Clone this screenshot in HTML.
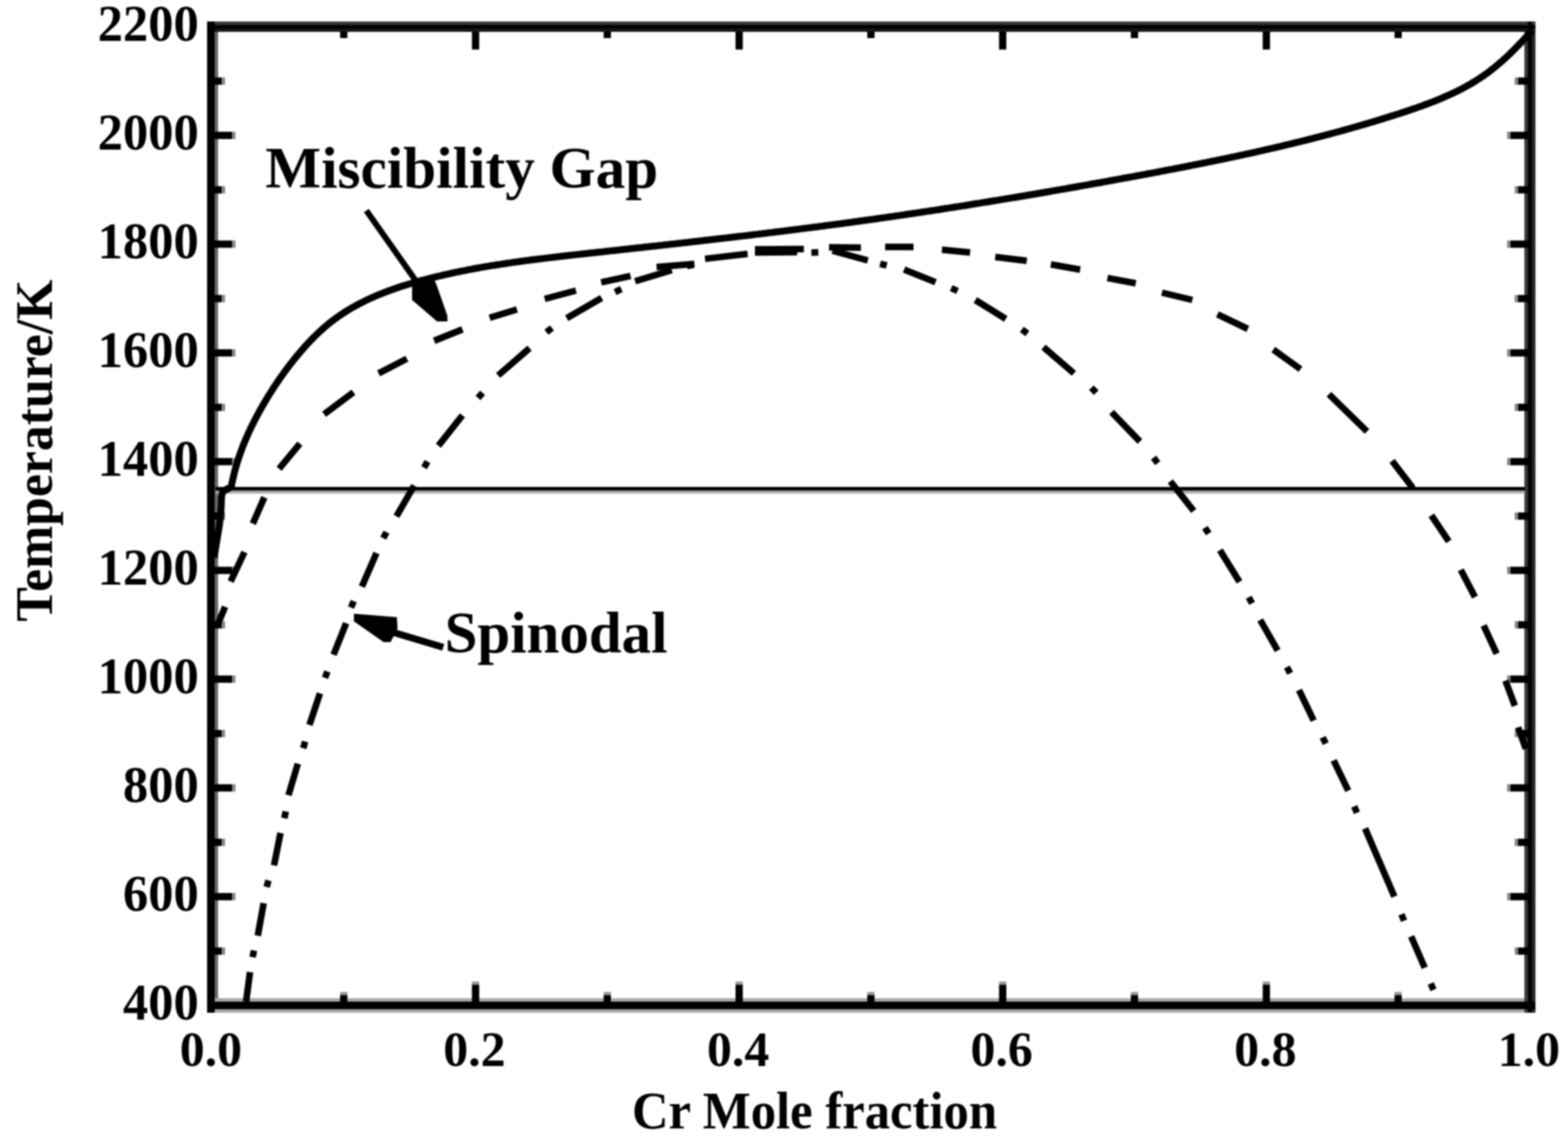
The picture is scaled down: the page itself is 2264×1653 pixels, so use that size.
<!DOCTYPE html>
<html><head><meta charset="utf-8"><title>Fe-Cr miscibility gap</title>
<style>html,body{margin:0;padding:0;background:#fff;overflow:hidden}svg{display:block;filter:blur(0.9px)}</style>
</head><body>
<svg width="2264" height="1653" viewBox="0 0 2264 1653">
<rect x="310.0" y="31.0" width="5.0" height="1431.0" fill="#6a6a6a"/>
<rect x="299.0" y="1441.0" width="1918.0" height="5.0" fill="#aaaaaa"/>
<rect x="299.0" y="1457.0" width="1918.0" height="5.0" fill="#aaaaaa"/>
<rect x="2201.0" y="31.0" width="5.0" height="1431.0" fill="#3a3a3a"/>
<rect x="2212.0" y="31.0" width="5.0" height="1431.0" fill="#282828"/>
<rect x="299.0" y="31.0" width="1918.0" height="5.0" fill="#383838"/>
<rect x="299.0" y="41.0" width="1918.0" height="5.0" fill="#161616"/>
<rect x="299.0" y="31.0" width="11.0" height="1431.0" fill="#000"/>
<rect x="2206.0" y="31.0" width="6.0" height="1431.0" fill="#000"/>
<rect x="299.0" y="36.0" width="1918.0" height="5.0" fill="#000"/>
<rect x="299.0" y="1446.0" width="1918.0" height="11.0" fill="#000"/>
<rect x="2201.0" y="36.0" width="16.0" height="5.0" fill="#000"/>
<rect x="299.0" y="41.0" width="11.0" height="5.0" fill="#000"/>
<rect x="491.1" y="1432.0" width="10.5" height="4.5" fill="#999999"/>
<rect x="491.1" y="1436.5" width="10.5" height="9.5" fill="#000"/>
<rect x="491.1" y="46.0" width="10.5" height="9.0" fill="#000"/>
<rect x="681.4" y="1417.0" width="10.5" height="4.5" fill="#999999"/>
<rect x="681.4" y="1421.5" width="10.5" height="24.5" fill="#000"/>
<rect x="681.4" y="46.0" width="10.5" height="25.5" fill="#000"/>
<rect x="871.6" y="1432.0" width="10.5" height="4.5" fill="#999999"/>
<rect x="871.6" y="1436.5" width="10.5" height="9.5" fill="#000"/>
<rect x="871.6" y="46.0" width="10.5" height="9.0" fill="#000"/>
<rect x="1062.0" y="1417.0" width="10.5" height="4.5" fill="#999999"/>
<rect x="1062.0" y="1421.5" width="10.5" height="24.5" fill="#000"/>
<rect x="1062.0" y="46.0" width="10.5" height="25.5" fill="#000"/>
<rect x="1252.2" y="1432.0" width="10.5" height="4.5" fill="#999999"/>
<rect x="1252.2" y="1436.5" width="10.5" height="9.5" fill="#000"/>
<rect x="1252.2" y="46.0" width="10.5" height="9.0" fill="#000"/>
<rect x="1442.5" y="1417.0" width="10.5" height="4.5" fill="#999999"/>
<rect x="1442.5" y="1421.5" width="10.5" height="24.5" fill="#000"/>
<rect x="1442.5" y="46.0" width="10.5" height="25.5" fill="#000"/>
<rect x="1632.8" y="1432.0" width="10.5" height="4.5" fill="#999999"/>
<rect x="1632.8" y="1436.5" width="10.5" height="9.5" fill="#000"/>
<rect x="1632.8" y="46.0" width="10.5" height="9.0" fill="#000"/>
<rect x="1823.2" y="1417.0" width="10.5" height="4.5" fill="#999999"/>
<rect x="1823.2" y="1421.5" width="10.5" height="24.5" fill="#000"/>
<rect x="1823.2" y="46.0" width="10.5" height="25.5" fill="#000"/>
<rect x="2013.5" y="1432.0" width="10.5" height="4.5" fill="#999999"/>
<rect x="2013.5" y="1436.5" width="10.5" height="9.5" fill="#000"/>
<rect x="2013.5" y="46.0" width="10.5" height="9.0" fill="#000"/>
<rect x="310.0" y="1367.8" width="10.0" height="10.5" fill="#000"/>
<rect x="320.0" y="1367.8" width="5.0" height="10.5" fill="#888888"/>
<rect x="2192.0" y="1367.8" width="14.0" height="10.5" fill="#000"/>
<rect x="2187.0" y="1367.8" width="5.0" height="10.5" fill="#888888"/>
<rect x="310.0" y="1289.2" width="25.0" height="10.5" fill="#000"/>
<rect x="335.0" y="1289.2" width="5.0" height="10.5" fill="#888888"/>
<rect x="2181.0" y="1289.2" width="25.0" height="10.5" fill="#000"/>
<rect x="2176.0" y="1289.2" width="5.0" height="10.5" fill="#888888"/>
<rect x="310.0" y="1210.8" width="10.0" height="10.5" fill="#000"/>
<rect x="320.0" y="1210.8" width="5.0" height="10.5" fill="#888888"/>
<rect x="2192.0" y="1210.8" width="14.0" height="10.5" fill="#000"/>
<rect x="2187.0" y="1210.8" width="5.0" height="10.5" fill="#888888"/>
<rect x="310.0" y="1132.2" width="25.0" height="10.5" fill="#000"/>
<rect x="335.0" y="1132.2" width="5.0" height="10.5" fill="#888888"/>
<rect x="2181.0" y="1132.2" width="25.0" height="10.5" fill="#000"/>
<rect x="2176.0" y="1132.2" width="5.0" height="10.5" fill="#888888"/>
<rect x="310.0" y="1053.8" width="10.0" height="10.5" fill="#000"/>
<rect x="320.0" y="1053.8" width="5.0" height="10.5" fill="#888888"/>
<rect x="2192.0" y="1053.8" width="14.0" height="10.5" fill="#000"/>
<rect x="2187.0" y="1053.8" width="5.0" height="10.5" fill="#888888"/>
<rect x="310.0" y="975.2" width="25.0" height="10.5" fill="#000"/>
<rect x="335.0" y="975.2" width="5.0" height="10.5" fill="#888888"/>
<rect x="2181.0" y="975.2" width="25.0" height="10.5" fill="#000"/>
<rect x="2176.0" y="975.2" width="5.0" height="10.5" fill="#888888"/>
<rect x="310.0" y="896.8" width="10.0" height="10.5" fill="#000"/>
<rect x="320.0" y="896.8" width="5.0" height="10.5" fill="#888888"/>
<rect x="2192.0" y="896.8" width="14.0" height="10.5" fill="#000"/>
<rect x="2187.0" y="896.8" width="5.0" height="10.5" fill="#888888"/>
<rect x="310.0" y="818.2" width="25.0" height="10.5" fill="#000"/>
<rect x="335.0" y="818.2" width="5.0" height="10.5" fill="#888888"/>
<rect x="2181.0" y="818.2" width="25.0" height="10.5" fill="#000"/>
<rect x="2176.0" y="818.2" width="5.0" height="10.5" fill="#888888"/>
<rect x="310.0" y="739.8" width="10.0" height="10.5" fill="#000"/>
<rect x="320.0" y="739.8" width="5.0" height="10.5" fill="#888888"/>
<rect x="2192.0" y="739.8" width="14.0" height="10.5" fill="#000"/>
<rect x="2187.0" y="739.8" width="5.0" height="10.5" fill="#888888"/>
<rect x="310.0" y="661.2" width="25.0" height="10.5" fill="#000"/>
<rect x="335.0" y="661.2" width="5.0" height="10.5" fill="#888888"/>
<rect x="2181.0" y="661.2" width="25.0" height="10.5" fill="#000"/>
<rect x="2176.0" y="661.2" width="5.0" height="10.5" fill="#888888"/>
<rect x="310.0" y="582.8" width="10.0" height="10.5" fill="#000"/>
<rect x="320.0" y="582.8" width="5.0" height="10.5" fill="#888888"/>
<rect x="2192.0" y="582.8" width="14.0" height="10.5" fill="#000"/>
<rect x="2187.0" y="582.8" width="5.0" height="10.5" fill="#888888"/>
<rect x="310.0" y="504.2" width="25.0" height="10.5" fill="#000"/>
<rect x="335.0" y="504.2" width="5.0" height="10.5" fill="#888888"/>
<rect x="2181.0" y="504.2" width="25.0" height="10.5" fill="#000"/>
<rect x="2176.0" y="504.2" width="5.0" height="10.5" fill="#888888"/>
<rect x="310.0" y="425.8" width="10.0" height="10.5" fill="#000"/>
<rect x="320.0" y="425.8" width="5.0" height="10.5" fill="#888888"/>
<rect x="2192.0" y="425.8" width="14.0" height="10.5" fill="#000"/>
<rect x="2187.0" y="425.8" width="5.0" height="10.5" fill="#888888"/>
<rect x="310.0" y="347.2" width="25.0" height="10.5" fill="#000"/>
<rect x="335.0" y="347.2" width="5.0" height="10.5" fill="#888888"/>
<rect x="2181.0" y="347.2" width="25.0" height="10.5" fill="#000"/>
<rect x="2176.0" y="347.2" width="5.0" height="10.5" fill="#888888"/>
<rect x="310.0" y="268.8" width="10.0" height="10.5" fill="#000"/>
<rect x="320.0" y="268.8" width="5.0" height="10.5" fill="#888888"/>
<rect x="2192.0" y="268.8" width="14.0" height="10.5" fill="#000"/>
<rect x="2187.0" y="268.8" width="5.0" height="10.5" fill="#888888"/>
<rect x="310.0" y="190.2" width="25.0" height="10.5" fill="#000"/>
<rect x="335.0" y="190.2" width="5.0" height="10.5" fill="#888888"/>
<rect x="2181.0" y="190.2" width="25.0" height="10.5" fill="#000"/>
<rect x="2176.0" y="190.2" width="5.0" height="10.5" fill="#888888"/>
<rect x="310.0" y="111.8" width="10.0" height="10.5" fill="#000"/>
<rect x="320.0" y="111.8" width="5.0" height="10.5" fill="#888888"/>
<rect x="2192.0" y="111.8" width="14.0" height="10.5" fill="#000"/>
<rect x="2187.0" y="111.8" width="5.0" height="10.5" fill="#888888"/>
<rect x="311" y="703" width="1891" height="5.5" fill="#000"/>
<rect x="311" y="708.5" width="1891" height="4" fill="#aaa"/>
<path d="M309.0,805.0 L311.5,790.0 L314.0,775.0 L316.5,760.0 L318.5,745.0 L319.3,732.0 L319.8,718.0 L321.5,709.5 L327.0,706.5 L333.9,703.0 L334.5,700.1 L335.0,697.1 L335.7,694.1 L336.3,691.2 L337.0,688.3 L337.7,685.3 L338.4,682.4 L339.1,679.5 L339.9,676.6 L340.7,673.7 L341.6,670.9 L342.4,668.0 L343.3,665.2 L344.2,662.3 L345.2,659.5 L346.1,656.7 L347.1,653.9 L348.1,651.1 L349.2,648.3 L350.2,645.5 L351.3,642.7 L352.4,640.0 L353.6,637.2 L354.7,634.5 L355.9,631.7 L357.1,629.0 L358.3,626.3 L359.5,623.6 L360.8,620.9 L362.0,618.2 L363.3,615.5 L364.7,612.8 L366.0,610.2 L367.3,607.5 L368.7,604.9 L370.1,602.2 L371.5,599.6 L372.9,597.0 L374.3,594.4 L375.8,591.7 L377.3,589.1 L378.7,586.6 L380.2,584.0 L381.7,581.4 L383.3,578.8 L384.8,576.3 L386.3,573.7 L387.9,571.1 L389.5,568.6 L391.1,566.1 L392.7,563.5 L394.3,561.0 L395.9,558.5 L397.6,556.0 L399.3,553.5 L400.9,551.0 L402.6,548.6 L404.3,546.1 L406.1,543.6 L407.8,541.2 L409.6,538.8 L411.3,536.3 L413.1,533.9 L414.9,531.5 L416.7,529.1 L418.5,526.7 L420.4,524.3 L422.2,522.0 L424.1,519.6 L426.0,517.3 L427.9,514.9 L429.8,512.6 L431.8,510.3 L433.7,508.0 L435.7,505.7 L437.7,503.4 L439.7,501.1 L441.7,498.9 L443.7,496.7 L445.8,494.4 L447.9,492.3 L449.9,490.1 L452.1,487.9 L454.2,485.8 L456.3,483.7 L458.5,481.6 L460.7,479.5 L462.9,477.5 L465.1,475.5 L467.3,473.5 L469.6,471.5 L471.9,469.6 L474.2,467.7 L476.5,465.8 L478.8,464.0 L481.2,462.2 L483.6,460.4 L486.0,458.7 L488.4,457.0 L490.8,455.3 L493.3,453.6 L495.7,452.0 L498.2,450.4 L500.7,448.9 L503.3,447.3 L505.8,445.8 L508.3,444.3 L510.9,442.8 L513.5,441.4 L516.1,440.0 L518.7,438.6 L521.3,437.2 L524.0,435.9 L526.6,434.6 L529.3,433.3 L532.0,432.0 L534.7,430.8 L537.4,429.6 L540.1,428.4 L542.9,427.2 L545.6,426.0 L548.4,424.9 L551.1,423.8 L553.9,422.7 L556.7,421.6 L559.5,420.5 L562.3,419.5 L565.1,418.5 L567.9,417.5 L570.7,416.5 L573.6,415.5 L576.4,414.6 L579.3,413.6 L582.1,412.7 L585.0,411.8 L587.8,410.9 L590.7,410.0 L593.6,409.2 L596.5,408.3 L599.4,407.5 L602.3,406.7 L605.1,405.9 L608.0,405.1 L611.0,404.3 L613.9,403.5 L616.8,402.8 L619.7,402.0 L622.6,401.3 L625.5,400.6 L628.4,399.9 L631.3,399.2 L634.3,398.5 L637.2,397.8 L640.1,397.1 L643.0,396.4 L645.9,395.8 L648.9,395.1 L651.8,394.5 L654.7,393.9 L657.6,393.2 L660.6,392.6 L663.5,392.0 L666.4,391.4 L669.4,390.9 L672.3,390.3 L675.2,389.7 L678.2,389.1 L681.1,388.6 L684.1,388.0 L687.0,387.5 L689.9,387.0 L692.9,386.4 L695.8,385.9 L698.8,385.4 L701.7,384.9 L704.7,384.4 L707.6,383.9 L710.6,383.4 L713.5,383.0 L716.5,382.5 L719.4,382.0 L722.4,381.6 L725.3,381.1 L728.3,380.7 L731.2,380.2 L734.2,379.8 L737.2,379.4 L740.1,378.9 L743.1,378.5 L746.0,378.1 L749.0,377.7 L752.0,377.3 L754.9,376.9 L757.9,376.5 L760.9,376.1 L763.8,375.7 L766.8,375.3 L769.7,374.9 L772.7,374.6 L775.7,374.2 L778.6,373.8 L781.6,373.5 L784.6,373.1 L787.6,372.7 L790.5,372.4 L793.5,372.0 L796.5,371.7 L799.4,371.3 L802.4,371.0 L805.4,370.6 L808.3,370.3 L811.3,369.9 L814.3,369.6 L817.3,369.3 L820.2,368.9 L823.2,368.6 L826.2,368.3 L829.2,367.9 L832.1,367.6 L835.1,367.3 L838.1,366.9 L841.1,366.6 L844.0,366.3 L847.0,366.0 L850.0,365.6 L853.0,365.3 L855.9,365.0 L858.9,364.7 L861.9,364.3 L864.9,364.0 L867.8,363.7 L870.8,363.4 L873.8,363.0 L876.8,362.7 L879.7,362.4 L882.7,362.1 L885.7,361.7 L888.7,361.4 L891.6,361.1 L894.6,360.8 L897.6,360.4 L900.6,360.1 L903.5,359.8 L906.5,359.5 L909.5,359.1 L912.5,358.8 L915.4,358.5 L918.4,358.1 L921.4,357.8 L924.4,357.5 L927.4,357.2 L930.3,356.8 L933.3,356.5 L936.3,356.2 L939.3,355.8 L942.2,355.5 L945.2,355.2 L948.2,354.9 L951.2,354.5 L954.1,354.2 L957.1,353.9 L960.1,353.5 L963.1,353.2 L966.0,352.9 L969.0,352.5 L972.0,352.2 L975.0,351.9 L977.9,351.5 L980.9,351.2 L983.9,350.9 L986.9,350.5 L989.8,350.2 L992.8,349.9 L995.8,349.5 L998.8,349.2 L1001.7,348.8 L1004.7,348.5 L1007.7,348.2 L1010.7,347.8 L1013.6,347.5 L1016.6,347.1 L1019.6,346.8 L1022.6,346.5 L1025.5,346.1 L1028.5,345.8 L1031.5,345.4 L1034.5,345.1 L1037.4,344.8 L1040.4,344.4 L1043.4,344.1 L1046.4,343.7 L1049.3,343.4 L1052.3,343.0 L1055.3,342.7 L1058.3,342.3 L1061.2,342.0 L1064.2,341.6 L1067.2,341.3 L1070.2,340.9 L1073.1,340.6 L1076.1,340.2 L1079.1,339.9 L1082.0,339.5 L1085.0,339.2 L1088.0,338.8 L1091.0,338.4 L1093.9,338.1 L1096.9,337.7 L1099.9,337.4 L1102.9,337.0 L1105.8,336.7 L1108.8,336.3 L1111.8,335.9 L1114.7,335.6 L1117.7,335.2 L1120.7,334.8 L1123.6,334.5 L1126.6,334.1 L1129.6,333.7 L1132.6,333.4 L1135.5,333.0 L1138.5,332.6 L1141.5,332.3 L1144.4,331.9 L1147.4,331.5 L1150.4,331.1 L1153.3,330.8 L1156.3,330.4 L1159.3,330.0 L1162.3,329.6 L1165.2,329.3 L1168.2,328.9 L1171.2,328.5 L1174.1,328.1 L1177.1,327.7 L1180.1,327.4 L1183.0,327.0 L1186.0,326.6 L1189.0,326.2 L1191.9,325.8 L1194.9,325.4 L1197.9,325.0 L1200.8,324.6 L1203.8,324.3 L1206.8,323.9 L1209.7,323.5 L1212.7,323.1 L1215.7,322.7 L1218.6,322.3 L1221.6,321.9 L1224.5,321.5 L1227.5,321.1 L1230.5,320.7 L1233.4,320.3 L1236.4,319.9 L1239.4,319.5 L1242.3,319.0 L1245.3,318.6 L1248.3,318.2 L1251.2,317.8 L1254.2,317.4 L1257.1,317.0 L1260.1,316.6 L1263.1,316.2 L1266.0,315.7 L1269.0,315.3 L1271.9,314.9 L1274.9,314.5 L1277.9,314.1 L1280.8,313.6 L1283.8,313.2 L1286.7,312.8 L1289.7,312.4 L1292.7,311.9 L1295.6,311.5 L1298.6,311.1 L1301.5,310.6 L1304.5,310.2 L1307.5,309.8 L1310.4,309.3 L1313.4,308.9 L1316.3,308.5 L1319.3,308.0 L1322.2,307.6 L1325.2,307.1 L1328.1,306.7 L1331.1,306.2 L1334.1,305.8 L1337.0,305.4 L1340.0,304.9 L1342.9,304.5 L1345.9,304.0 L1348.8,303.6 L1351.8,303.1 L1354.7,302.7 L1357.7,302.2 L1360.7,301.7 L1363.6,301.3 L1366.6,300.8 L1369.5,300.4 L1372.5,299.9 L1375.4,299.5 L1378.4,299.0 L1381.3,298.5 L1384.3,298.1 L1387.2,297.6 L1390.2,297.1 L1393.1,296.7 L1396.1,296.2 L1399.0,295.7 L1402.0,295.3 L1404.9,294.8 L1407.9,294.3 L1410.8,293.8 L1413.8,293.4 L1416.7,292.9 L1419.7,292.4 L1422.6,291.9 L1425.6,291.5 L1428.5,291.0 L1431.5,290.5 L1434.4,290.0 L1437.4,289.5 L1440.3,289.1 L1443.3,288.6 L1446.2,288.1 L1449.2,287.6 L1452.1,287.1 L1455.1,286.6 L1458.0,286.1 L1461.0,285.6 L1463.9,285.2 L1466.9,284.7 L1469.8,284.2 L1472.8,283.7 L1475.7,283.2 L1478.7,282.7 L1481.6,282.2 L1484.6,281.7 L1487.5,281.2 L1490.5,280.7 L1493.4,280.2 L1496.4,279.7 L1499.3,279.2 L1502.3,278.7 L1505.2,278.2 L1508.1,277.7 L1511.1,277.2 L1514.0,276.7 L1517.0,276.2 L1519.9,275.6 L1522.9,275.1 L1525.8,274.6 L1528.8,274.1 L1531.7,273.6 L1534.7,273.1 L1537.6,272.6 L1540.6,272.1 L1543.5,271.5 L1546.4,271.0 L1549.4,270.5 L1552.3,270.0 L1555.3,269.5 L1558.2,268.9 L1561.2,268.4 L1564.1,267.9 L1567.1,267.4 L1570.0,266.9 L1573.0,266.3 L1575.9,265.8 L1578.8,265.3 L1581.8,264.8 L1584.7,264.2 L1587.7,263.7 L1590.6,263.2 L1593.6,262.6 L1596.5,262.1 L1599.4,261.6 L1602.4,261.0 L1605.3,260.5 L1608.3,260.0 L1611.2,259.4 L1614.2,258.9 L1617.1,258.4 L1620.1,257.8 L1623.0,257.3 L1625.9,256.8 L1628.9,256.2 L1631.8,255.7 L1634.8,255.1 L1637.7,254.6 L1640.7,254.0 L1643.6,253.5 L1646.5,253.0 L1649.5,252.4 L1652.4,251.9 L1655.4,251.3 L1658.3,250.8 L1661.3,250.2 L1664.2,249.7 L1667.1,249.1 L1670.1,248.6 L1673.0,248.0 L1676.0,247.4 L1678.9,246.9 L1681.8,246.3 L1684.8,245.8 L1687.7,245.2 L1690.7,244.6 L1693.6,244.1 L1696.5,243.5 L1699.5,242.9 L1702.4,242.4 L1705.4,241.8 L1708.3,241.2 L1711.2,240.7 L1714.2,240.1 L1717.1,239.5 L1720.1,238.9 L1723.0,238.3 L1725.9,237.8 L1728.9,237.2 L1731.8,236.6 L1734.7,236.0 L1737.7,235.4 L1740.6,234.8 L1743.5,234.2 L1746.5,233.6 L1749.4,233.0 L1752.3,232.4 L1755.3,231.8 L1758.2,231.2 L1761.1,230.6 L1764.1,230.0 L1767.0,229.4 L1769.9,228.8 L1772.9,228.2 L1775.8,227.6 L1778.7,226.9 L1781.6,226.3 L1784.6,225.7 L1787.5,225.1 L1790.4,224.4 L1793.3,223.8 L1796.3,223.2 L1799.2,222.5 L1802.1,221.9 L1805.0,221.3 L1808.0,220.6 L1810.9,220.0 L1813.8,219.3 L1816.7,218.7 L1819.6,218.0 L1822.6,217.3 L1825.5,216.7 L1828.4,216.0 L1831.3,215.3 L1834.2,214.7 L1837.2,214.0 L1840.1,213.3 L1843.0,212.7 L1845.9,212.0 L1848.8,211.3 L1851.7,210.6 L1854.6,209.9 L1857.5,209.2 L1860.5,208.5 L1863.4,207.8 L1866.3,207.1 L1869.2,206.4 L1872.1,205.7 L1875.0,205.0 L1877.9,204.3 L1880.8,203.5 L1883.7,202.8 L1886.6,202.1 L1889.5,201.4 L1892.4,200.6 L1895.3,199.9 L1898.2,199.1 L1901.1,198.4 L1904.0,197.7 L1906.9,196.9 L1909.8,196.1 L1912.7,195.4 L1915.6,194.6 L1918.5,193.9 L1921.4,193.1 L1924.3,192.3 L1927.1,191.5 L1930.0,190.7 L1932.9,190.0 L1935.8,189.2 L1938.7,188.4 L1941.6,187.6 L1944.5,186.8 L1947.3,186.0 L1950.2,185.2 L1953.1,184.3 L1956.0,183.5 L1958.9,182.7 L1961.7,181.9 L1964.6,181.0 L1967.5,180.2 L1970.4,179.4 L1973.2,178.5 L1976.1,177.7 L1979.0,176.8 L1981.8,176.0 L1984.7,175.1 L1987.6,174.2 L1990.4,173.4 L1993.3,172.5 L1996.2,171.6 L1999.0,170.7 L2001.9,169.8 L2004.7,168.9 L2007.6,168.0 L2010.5,167.1 L2013.3,166.2 L2016.2,165.3 L2019.0,164.4 L2021.9,163.5 L2024.7,162.5 L2027.6,161.6 L2030.4,160.7 L2033.3,159.7 L2036.1,158.8 L2038.9,157.8 L2041.8,156.8 L2044.6,155.9 L2047.4,154.9 L2050.2,153.9 L2053.1,152.9 L2055.9,151.8 L2058.7,150.8 L2061.5,149.8 L2064.3,148.7 L2067.1,147.6 L2069.9,146.6 L2072.6,145.5 L2075.4,144.4 L2078.2,143.2 L2080.9,142.1 L2083.6,140.9 L2086.4,139.7 L2089.1,138.5 L2091.8,137.3 L2094.5,136.1 L2097.2,134.8 L2099.9,133.6 L2102.6,132.3 L2105.2,131.0 L2107.9,129.6 L2110.5,128.3 L2113.1,126.9 L2115.7,125.5 L2118.3,124.0 L2120.9,122.6 L2123.5,121.1 L2126.0,119.6 L2128.6,118.1 L2131.1,116.5 L2133.6,114.9 L2136.1,113.3 L2138.6,111.6 L2141.0,110.0 L2143.5,108.3 L2145.9,106.5 L2148.3,104.8 L2150.7,103.0 L2153.1,101.1 L2155.5,99.3 L2157.8,97.4 L2160.1,95.5 L2162.4,93.6 L2164.7,91.6 L2167.0,89.7 L2169.3,87.7 L2171.5,85.7 L2173.8,83.6 L2176.0,81.6 L2178.2,79.5 L2180.4,77.4 L2182.6,75.3 L2184.7,73.1 L2186.9,71.0 L2189.0,68.8 L2191.1,66.7 L2193.2,64.5 L2195.3,62.3 L2197.4,60.1 L2199.5,57.9 L2201.6,55.6 L2203.6,53.4 L2205.6,51.2 L2207.7,48.9 L2209.7,46.6 L2211.7,44.4" fill="none" stroke="#000" stroke-width="10" stroke-linejoin="round"/>
<line x1="325" y1="876" x2="313" y2="905" stroke="#000" stroke-width="9.5"/>
<line x1="353" y1="797" x2="333" y2="839.5" stroke="#000" stroke-width="9.5"/>
<line x1="381.7" y1="718" x2="365" y2="756" stroke="#000" stroke-width="9.5"/>
<line x1="433" y1="640.4" x2="403" y2="676.8" stroke="#000" stroke-width="9.5"/>
<line x1="468" y1="598" x2="510.3" y2="566.3" stroke="#000" stroke-width="9.5"/>
<line x1="546.7" y1="539" x2="587.5" y2="517.9" stroke="#000" stroke-width="9.5"/>
<line x1="626.9" y1="492" x2="667.7" y2="475.5" stroke="#000" stroke-width="9.5"/>
<line x1="707" y1="458.8" x2="746.4" y2="446.7" stroke="#000" stroke-width="9.5"/>
<line x1="786.5" y1="431.5" x2="831.6" y2="419.5" stroke="#000" stroke-width="9.5"/>
<line x1="868" y1="407.6" x2="910.5" y2="398.3" stroke="#000" stroke-width="9.5"/>
<line x1="948" y1="385.5" x2="1002.6" y2="381" stroke="#000" stroke-width="9.5"/>
<line x1="1018" y1="373.6" x2="1079.5" y2="366.5" stroke="#000" stroke-width="9.5"/>
<line x1="1090" y1="360" x2="1160.7" y2="359.5" stroke="#000" stroke-width="9.5"/>
<line x1="1197" y1="357" x2="1243" y2="357.5" stroke="#000" stroke-width="9.5"/>
<line x1="1278" y1="356.5" x2="1319" y2="356.5" stroke="#000" stroke-width="9.5"/>
<line x1="1360" y1="360.5" x2="1400.7" y2="364.4" stroke="#000" stroke-width="9.5"/>
<line x1="1437" y1="371" x2="1482.5" y2="376.5" stroke="#000" stroke-width="9.5"/>
<line x1="1517.3" y1="381.7" x2="1559.6" y2="389.2" stroke="#000" stroke-width="9.5"/>
<line x1="1599" y1="401.3" x2="1639.9" y2="409" stroke="#000" stroke-width="9.5"/>
<line x1="1677.7" y1="422.5" x2="1721.6" y2="433" stroke="#000" stroke-width="9.5"/>
<line x1="1757.8" y1="453.7" x2="1801.7" y2="474.9" stroke="#000" stroke-width="9.5"/>
<line x1="1838.5" y1="504.7" x2="1877.8" y2="533" stroke="#000" stroke-width="9.5"/>
<line x1="1918.8" y1="569.2" x2="1973.8" y2="622.8" stroke="#000" stroke-width="9.5"/>
<line x1="2010" y1="665.3" x2="2040" y2="704.6" stroke="#000" stroke-width="9.5"/>
<line x1="2066.7" y1="744" x2="2091.9" y2="781.7" stroke="#000" stroke-width="9.5"/>
<line x1="2109.2" y1="822.6" x2="2129.7" y2="862" stroke="#000" stroke-width="9.5"/>
<line x1="2142.2" y1="902.9" x2="2161" y2="943.8" stroke="#000" stroke-width="9.5"/>
<line x1="2173.7" y1="982.7" x2="2187.3" y2="1019" stroke="#000" stroke-width="9.5"/>
<line x1="2192" y1="1050" x2="2203" y2="1081" stroke="#000" stroke-width="9.5"/>
<line x1="355.3" y1="1446" x2="361" y2="1403.3" stroke="#000" stroke-width="9.5"/>
<line x1="372.2" y1="1350.8" x2="380.7" y2="1303.8" stroke="#000" stroke-width="9.5"/>
<line x1="395.7" y1="1249.4" x2="405" y2="1202.5" stroke="#000" stroke-width="9.5"/>
<line x1="416.5" y1="1148" x2="430" y2="1102.5" stroke="#000" stroke-width="9.5"/>
<line x1="446.8" y1="1046.6" x2="462" y2="1001" stroke="#000" stroke-width="9.5"/>
<line x1="481.6" y1="945.2" x2="499.8" y2="899.8" stroke="#000" stroke-width="9.5"/>
<line x1="522.5" y1="846.8" x2="543.6" y2="798.4" stroke="#000" stroke-width="9.5"/>
<line x1="572.4" y1="745.4" x2="598" y2="701" stroke="#000" stroke-width="9.5"/>
<line x1="633" y1="643.5" x2="667.7" y2="599.6" stroke="#000" stroke-width="9.5"/>
<line x1="719.2" y1="542" x2="764.6" y2="502.7" stroke="#000" stroke-width="9.5"/>
<line x1="818.3" y1="459.3" x2="868.7" y2="430.1" stroke="#000" stroke-width="9.5"/>
<line x1="917" y1="406" x2="970" y2="390" stroke="#000" stroke-width="9.5"/>
<line x1="1090" y1="364.5" x2="1151" y2="364" stroke="#000" stroke-width="9.5"/>
<line x1="1202" y1="362" x2="1253" y2="376" stroke="#000" stroke-width="9.5"/>
<line x1="1305.4" y1="389.2" x2="1350.8" y2="407.4" stroke="#000" stroke-width="9.5"/>
<line x1="1408.3" y1="433.1" x2="1452.2" y2="460.4" stroke="#000" stroke-width="9.5"/>
<line x1="1506.7" y1="501.2" x2="1550.6" y2="539" stroke="#000" stroke-width="9.5"/>
<line x1="1605" y1="595" x2="1645.9" y2="637.4" stroke="#000" stroke-width="9.5"/>
<line x1="1689.8" y1="694.9" x2="1723.6" y2="737.6" stroke="#000" stroke-width="9.5"/>
<line x1="1761.4" y1="794.3" x2="1789.7" y2="840" stroke="#000" stroke-width="9.5"/>
<line x1="1819.6" y1="895" x2="1844.8" y2="939.1" stroke="#000" stroke-width="9.5"/>
<line x1="1875.6" y1="996.3" x2="1896.8" y2="1040.2" stroke="#000" stroke-width="9.5"/>
<line x1="1925.6" y1="1097.7" x2="1946.7" y2="1141.5" stroke="#000" stroke-width="9.5"/>
<line x1="1971" y1="1196" x2="2013.3" y2="1294.3" stroke="#000" stroke-width="9.5"/>
<line x1="2037.5" y1="1351.8" x2="2057.2" y2="1397.2" stroke="#000" stroke-width="9.5"/>
<line x1="364.7" y1="1381.9" x2="366.7" y2="1372.1" stroke="#000" stroke-width="9.5"/>
<line x1="385.0" y1="1280.5" x2="387.6" y2="1270.9" stroke="#000" stroke-width="9.5"/>
<line x1="410.6" y1="1181.2" x2="412.6" y2="1171.4" stroke="#000" stroke-width="9.5"/>
<line x1="437.8" y1="1080.1" x2="440.6" y2="1070.5" stroke="#000" stroke-width="9.5"/>
<line x1="469.3" y1="978.7" x2="472.7" y2="969.3" stroke="#000" stroke-width="9.5"/>
<line x1="506.8" y1="877.1" x2="510.8" y2="867.9" stroke="#000" stroke-width="9.5"/>
<line x1="553.3" y1="777.0" x2="558.1" y2="768.2" stroke="#000" stroke-width="9.5"/>
<line x1="612.2" y1="675.0" x2="617.4" y2="666.4" stroke="#000" stroke-width="9.5"/>
<line x1="690.2" y1="574.5" x2="696.8" y2="567.1" stroke="#000" stroke-width="9.5"/>
<line x1="789.1" y1="479.6" x2="796.9" y2="473.4" stroke="#000" stroke-width="9.5"/>
<line x1="888.1" y1="421.7" x2="897.1" y2="417.3" stroke="#000" stroke-width="9.5"/>
<line x1="992.1" y1="384.0" x2="1001.9" y2="382.0" stroke="#000" stroke-width="9.5"/>
<line x1="1171.5" y1="364.7" x2="1181.5" y2="364.3" stroke="#000" stroke-width="9.5"/>
<line x1="1270.7" y1="380.8" x2="1280.3" y2="383.2" stroke="#000" stroke-width="9.5"/>
<line x1="1373.4" y1="416.0" x2="1382.6" y2="420.0" stroke="#000" stroke-width="9.5"/>
<line x1="1475.4" y1="475.5" x2="1483.4" y2="481.5" stroke="#000" stroke-width="9.5"/>
<line x1="1575.8" y1="559.7" x2="1582.8" y2="566.9" stroke="#000" stroke-width="9.5"/>
<line x1="1665.6" y1="660.6" x2="1671.6" y2="668.6" stroke="#000" stroke-width="9.5"/>
<line x1="1739.7" y1="761.8" x2="1745.3" y2="770.2" stroke="#000" stroke-width="9.5"/>
<line x1="1803.0" y1="862.3" x2="1807.8" y2="871.1" stroke="#000" stroke-width="9.5"/>
<line x1="1858.1" y1="963.1" x2="1862.9" y2="971.9" stroke="#000" stroke-width="9.5"/>
<line x1="1909.8" y1="1064.5" x2="1914.2" y2="1073.5" stroke="#000" stroke-width="9.5"/>
<line x1="1955.3" y1="1164.2" x2="1959.3" y2="1173.4" stroke="#000" stroke-width="9.5"/>
<line x1="2023.5" y1="1320.0" x2="2027.3" y2="1329.2" stroke="#000" stroke-width="9.5"/>
<line x1="2065.8" y1="1419.8" x2="2069.8" y2="1429.0" stroke="#000" stroke-width="9.5"/>
<line x1="529" y1="304" x2="603" y2="409" stroke="#000" stroke-width="8.5"/>
<polygon points="595,404 626,401 631,413 646,456 646,464 631,464 595,433" fill="#000"/>
<line x1="568" y1="913" x2="640" y2="934.5" stroke="#000" stroke-width="10"/>
<polygon points="511,886 573,891 574,907 564,927 554,927 511,897" fill="#000"/>
<text x="287" y="1472.0" text-anchor="end" style="font-family:'Liberation Serif','Times New Roman',serif;font-weight:bold;font-size:73px">400</text>
<text x="287" y="1315.0" text-anchor="end" style="font-family:'Liberation Serif','Times New Roman',serif;font-weight:bold;font-size:73px">600</text>
<text x="287" y="1158.0" text-anchor="end" style="font-family:'Liberation Serif','Times New Roman',serif;font-weight:bold;font-size:73px">800</text>
<text x="287" y="1001.0" text-anchor="end" style="font-family:'Liberation Serif','Times New Roman',serif;font-weight:bold;font-size:73px">1000</text>
<text x="287" y="844.0" text-anchor="end" style="font-family:'Liberation Serif','Times New Roman',serif;font-weight:bold;font-size:73px">1200</text>
<text x="287" y="687.0" text-anchor="end" style="font-family:'Liberation Serif','Times New Roman',serif;font-weight:bold;font-size:73px">1400</text>
<text x="287" y="530.0" text-anchor="end" style="font-family:'Liberation Serif','Times New Roman',serif;font-weight:bold;font-size:73px">1600</text>
<text x="287" y="373.0" text-anchor="end" style="font-family:'Liberation Serif','Times New Roman',serif;font-weight:bold;font-size:73px">1800</text>
<text x="287" y="216.0" text-anchor="end" style="font-family:'Liberation Serif','Times New Roman',serif;font-weight:bold;font-size:73px">2000</text>
<text x="287" y="59.0" text-anchor="end" style="font-family:'Liberation Serif','Times New Roman',serif;font-weight:bold;font-size:73px">2200</text>
<text x="304.5" y="1538.5" text-anchor="middle" style="font-family:'Liberation Serif','Times New Roman',serif;font-weight:bold;font-size:72px">0.0</text>
<text x="685.1" y="1538.5" text-anchor="middle" style="font-family:'Liberation Serif','Times New Roman',serif;font-weight:bold;font-size:72px">0.2</text>
<text x="1065.7" y="1538.5" text-anchor="middle" style="font-family:'Liberation Serif','Times New Roman',serif;font-weight:bold;font-size:72px">0.4</text>
<text x="1446.3" y="1538.5" text-anchor="middle" style="font-family:'Liberation Serif','Times New Roman',serif;font-weight:bold;font-size:72px">0.6</text>
<text x="1826.9" y="1538.5" text-anchor="middle" style="font-family:'Liberation Serif','Times New Roman',serif;font-weight:bold;font-size:72px">0.8</text>
<text x="2207.5" y="1538.5" text-anchor="middle" style="font-family:'Liberation Serif','Times New Roman',serif;font-weight:bold;font-size:72px">1.0</text>
<text transform="translate(912.45,1628.80) scale(0.9635,1)" style="font-family:'Liberation Serif','Times New Roman',serif;font-weight:bold;font-size:76px">Cr Mole fraction</text>
<text transform="translate(382.98,270.50) scale(1.0174,1)" style="font-family:'Liberation Serif','Times New Roman',serif;font-weight:bold;font-size:84px">Miscibility Gap</text>
<text transform="translate(641.94,942.10) scale(1.0138,1)" style="font-family:'Liberation Serif','Times New Roman',serif;font-weight:bold;font-size:84px">Spinodal</text>
<text transform="translate(74.7,897.48) rotate(-90) scale(0.9830,1)" style="font-family:'Liberation Serif','Times New Roman',serif;font-weight:bold;font-size:76px">Temperature/K</text>
</svg>
</body></html>
